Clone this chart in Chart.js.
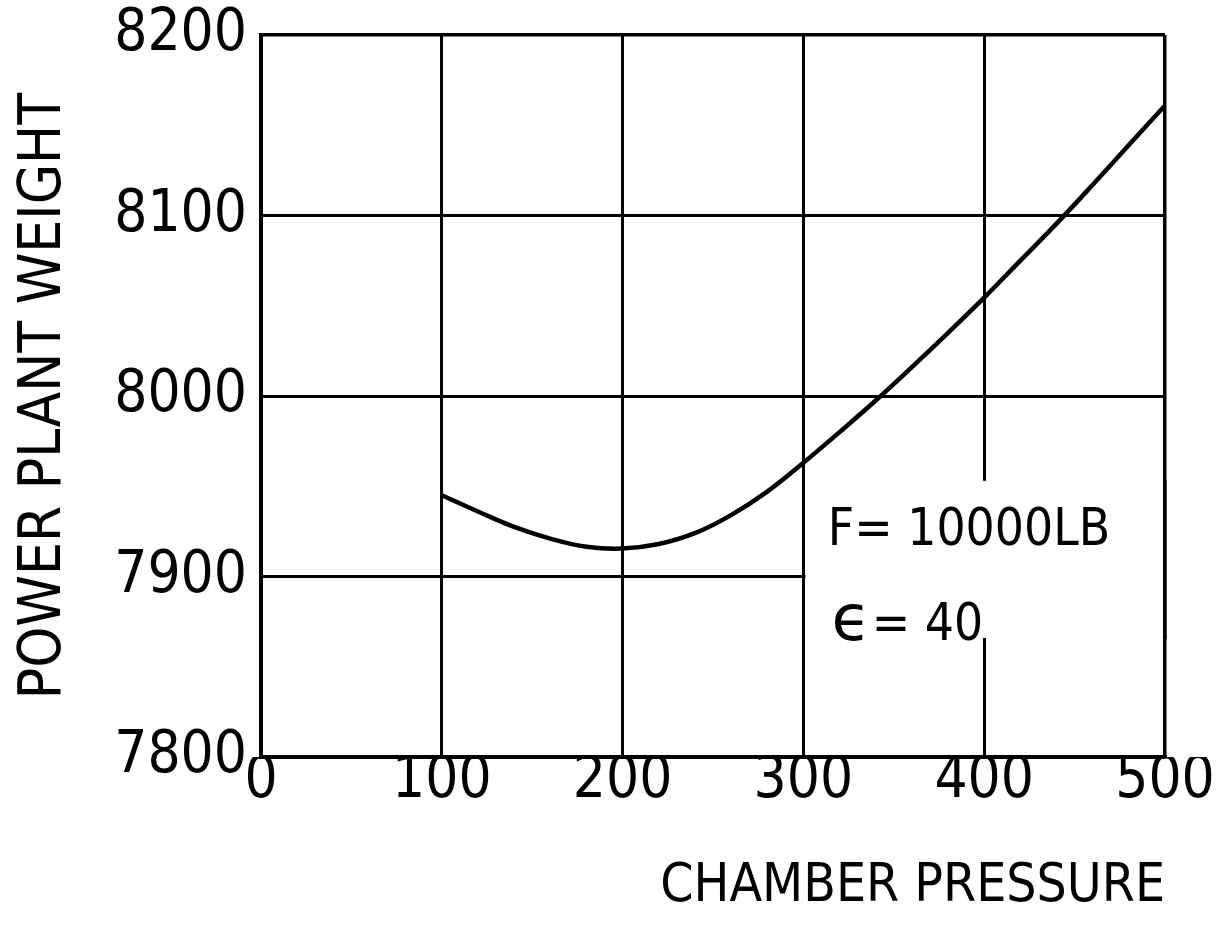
<!DOCTYPE html>
<html>
<head>
<meta charset="utf-8">
<script src="https://cdn.jsdelivr.net/npm/chart.js@4/dist/chart.umd.min.js"></script>
<style>
html,body{margin:0;padding:0;background:#fff;}
#wrap{width:1225px;height:947px;position:relative;}
canvas{display:block;}
</style>
</head>
<body>
<div id="wrap"><canvas id="c" width="1225" height="947"></canvas></div>
<script>
// ---- data ----
const chamberPressure  = [100, 120, 140, 160, 180, 200, 220, 240, 260, 280, 300, 320, 340, 360, 380, 400, 420, 440, 460, 480, 500];
const powerPlantWeight = [7945, 7936, 7927.5, 7921, 7916.5, 7915.5, 7918, 7924, 7934, 7947, 7963, 7980, 7997.5, 8016, 8035, 8054.5, 8075, 8095.5, 8117, 8139, 8161];
const xTickValues = [0, 100, 200, 300, 400, 500];
const yTickValues = [7800, 7900, 8000, 8100, 8200];
const xTitle = 'CHAMBER PRESSURE';
const yTitle = 'POWER PLANT WEIGHT';
const noteThrust = 'F= 10000LB';
const noteEpsSymbol = 'ϵ';
const noteEpsValue = '= 40';

const FONT = '"DejaVu Sans Condensed", "Liberation Sans Narrow", "DejaVu Sans", sans-serif';

const points = chamberPressure.map((x, i) => ({x: x, y: powerPlantWeight[i]}));

const bgPlugin = {
  id: 'bg',
  beforeDraw(chart) {
    const c = chart.ctx;
    c.save();
    c.fillStyle = '#fff';
    c.fillRect(0, 0, chart.width, chart.height);
    c.restore();
  }
};

// white label box (breaks the grid behind the note) and the note text
const notePlugin = {
  id: 'note',
  beforeDatasetsDraw(chart) {
    const xs = chart.scales.x, ys = chart.scales.y;
    const c = chart.ctx;
    const frameW = 3.5;
    const xRight = Math.round(xs.getPixelForValue(500) - frameW / 2) + frameW / 2;
    const x0 = xs.getPixelForValue(300) + 2;
    const x1 = xRight - 1;
    const y0 = ys.getPixelForValue(7953);
    const y1 = ys.getPixelForValue(7866);
    c.save();
    c.fillStyle = '#fff';
    c.fillRect(x0, y0, x1 - x0, y1 - y0);
    // restore the right frame line over the box edge
    c.strokeStyle = '#000';
    c.lineWidth = frameW;
    c.beginPath();
    c.moveTo(xRight, y0 - 1);
    c.lineTo(xRight, y1 + 1);
    c.stroke();
    c.fillStyle = '#000';
    c.textAlign = 'left';
    c.textBaseline = 'alphabetic';
    c.font = '51px ' + FONT;
    c.fillText(noteThrust, xs.getPixelForValue(313.5), ys.getPixelForValue(7917.5));
    const bx = xs.getPixelForValue(315.5);
    const by = ys.getPixelForValue(7865);
    c.font = '64px "DejaVu Sans", sans-serif';
    c.fillText(noteEpsSymbol, bx, by);
    const w = c.measureText(noteEpsSymbol).width;
    c.font = '51px ' + FONT;
    c.fillText(noteEpsValue, bx + w + 1, by);
    c.restore();
  }
};

new Chart(document.getElementById('c'), {
  type: 'line',
  data: {
    datasets: [{
      data: points,
      borderColor: '#000',
      borderWidth: 4.5,
      pointRadius: 0,
      fill: false,
      tension: 0.4
    }]
  },
  options: {
    responsive: false,
    animation: false,
    devicePixelRatio: 1,
    layout: {padding: {top: 35, right: 60, bottom: 0, left: 0}},
    plugins: {legend: {display: false}, tooltip: {enabled: false}},
    scales: {
      x: {
        type: 'linear',
        min: 0, max: 500,
        afterBuildTicks(scale) { scale.ticks = xTickValues.map(v => ({value: v})); },
        afterFit(scale) { scale.height = 190; },
        grid: {
          color: '#000',
          lineWidth: ctx => (ctx.tick && ctx.tick.value === 500 ? 3.5 : 3),
          drawTicks: false
        },
        border: {color: '#000', width: 3.5},
        ticks: {
          color: '#000',
          padding: 0,
          maxRotation: 0,
          autoSkip: false,
          font: {family: FONT, size: 58, lineHeight: 0.85}
        },
        title: {
          display: true,
          text: xTitle,
          align: 'end',
          color: '#000',
          font: {family: FONT, size: 53},
          padding: {top: 0, bottom: 28}
        }
      },
      y: {
        type: 'linear',
        min: 7800, max: 8200,
        afterBuildTicks(scale) { scale.ticks = yTickValues.map(v => ({value: v})); },
        afterFit(scale) { scale.width = 261; },
        grid: {
          color: '#000',
          lineWidth: ctx => (ctx.tick && ctx.tick.value === 8200 ? 3.5 : 3),
          drawTicks: false
        },
        border: {color: '#000', width: 3.5},
        ticks: {
          color: '#000',
          padding: 14,
          autoSkip: false,
          callback: v => String(v),
          font: {family: FONT, size: 58, lineHeight: 0.6}
        },
        title: {
          display: true,
          text: yTitle,
          color: '#000',
          font: {family: FONT, size: 58},
          padding: {top: 10, bottom: 0}
        }
      }
    }
  },
  plugins: [bgPlugin, notePlugin]
});
</script>
</body>
</html>
